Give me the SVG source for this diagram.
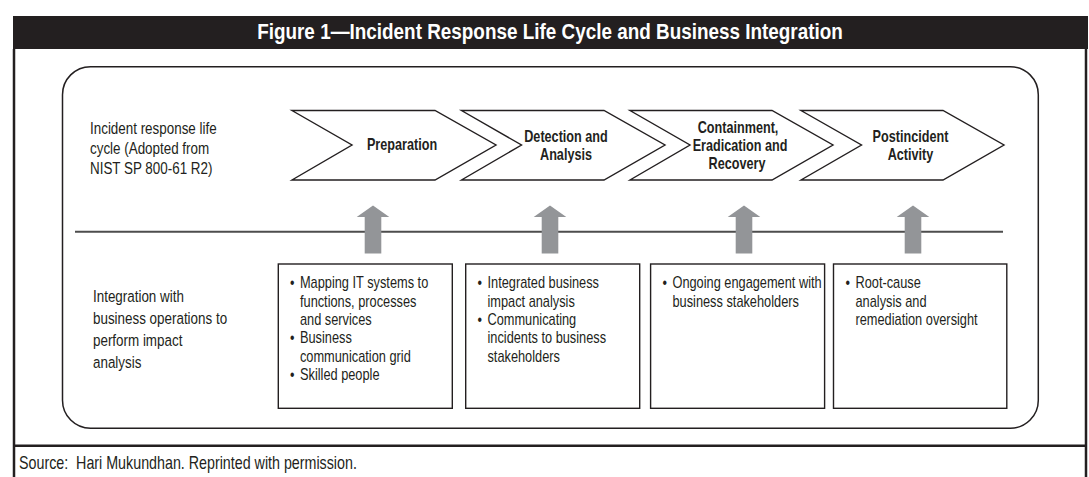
<svg xmlns="http://www.w3.org/2000/svg" width="1089" height="477" viewBox="0 0 1089 477">
  <defs>
    <style>
      .txt { font-family: "Liberation Sans", Arial, sans-serif; fill: #231f20; }
      .title { font-family: "Liberation Sans", Arial, sans-serif; font-weight: bold; font-size: 22.5px; fill: #ffffff; text-anchor: middle; }
      .label { font-size: 17.2px; }
      .item { font-size: 16.4px; }
      .step { font-size: 15.8px; font-weight: bold; text-anchor: middle; }
      .source { font-size: 18.3px; white-space: pre; }
      .frame { fill: none; stroke: #231f20; stroke-width: 2.5; }
      .panel { fill: none; stroke: #231f20; stroke-width: 1.5; }
      .chevron { fill: #ffffff; stroke: #231f20; stroke-width: 1.4; stroke-linejoin: miter; }
      .box { fill: #ffffff; stroke: #231f20; stroke-width: 1.4; }
      .divider { stroke: #4d4d4d; stroke-width: 2; }
      .up { fill: #939598; }
    </style>
    <!-- block arrow pointing up, origin at the tip -->
    <path id="uparrow" d="M0,0 L16.3,11.5 L8.3,11.5 L8.3,48 L-8.3,48 L-8.3,11.5 L-16.3,11.5 Z"/>
  </defs>

  <!-- figure frame; texts are narrowed with a horizontal scale to get a condensed face -->
  <g id="frame">
    <rect x="13" y="16" width="1075" height="33" fill="#231f20"/>
    <g transform="translate(550 0) scale(0.84 1)">
      <text class="title" x="0" y="39.5">Figure 1—Incident Response Life Cycle and Business Integration</text>
    </g>
    <line class="frame" x1="14" y1="49" x2="14" y2="477"/>
    <line class="frame" x1="1086" y1="49" x2="1086" y2="477"/>
    <line class="frame" x1="13" y1="445.7" x2="1087" y2="445.7"/>
    <g transform="translate(19 0) scale(0.78 1)">
      <text class="txt source" x="0" y="469" xml:space="preserve">Source:  Hari Mukundhan. Reprinted with permission.</text>
    </g>
  </g>

  <!-- rounded panel holding the two rows -->
  <g id="panel">
    <rect class="panel" x="62.5" y="66.7" width="975.8" height="361.5" rx="28" ry="28"/>
  </g>

  <g id="connectors">
    <line class="divider" x1="75" y1="231.7" x2="1003" y2="231.7"/>
    <use href="#uparrow" class="up" x="373" y="205.5"/>
    <use href="#uparrow" class="up" x="550" y="205.5"/>
    <use href="#uparrow" class="up" x="744" y="205.5"/>
    <use href="#uparrow" class="up" x="913" y="205.5"/>
  </g>

  <!-- row captions -->
  <g id="lifecycle-caption" transform="translate(90 0) scale(0.78 1)">
    <text class="txt label" x="0" y="134.5">Incident response life</text>
    <text class="txt label" x="0" y="154.5">cycle (Adopted from</text>
    <text class="txt label" x="0" y="174.5">NIST SP 800-61 R2)</text>
  </g>
  <g id="integration-caption" transform="translate(93 0) scale(0.78 1)">
    <text class="txt label" x="0" y="302.5">Integration with</text>
    <text class="txt label" x="0" y="324.5">business operations to</text>
    <text class="txt label" x="0" y="346.5">perform impact</text>
    <text class="txt label" x="0" y="368.5">analysis</text>
  </g>

  <!-- life cycle phases -->
  <g id="preparation">
    <polygon class="chevron" points="292,110.5 435,110.5 496,145 435,180 292,180 352,145"/>
    <g transform="translate(402 0) scale(0.8 1)">
      <text class="txt step" x="0" y="150.5">Preparation</text>
    </g>
  </g>
  <g id="detection">
    <polygon class="chevron" points="461.5,110.5 604,110.5 665,145 604,180 461.5,180 521.5,145"/>
    <g transform="translate(566 0) scale(0.8 1)">
      <text class="txt step" x="0" y="142.5">Detection and</text>
      <text class="txt step" x="0" y="160.5">Analysis</text>
    </g>
  </g>
  <g id="containment">
    <polygon class="chevron" points="630,110.5 772,110.5 833,145 772,180 630,180 690,145"/>
    <g transform="translate(738 0) scale(0.8 1)">
      <text class="txt step" x="0" y="133.5">Containment,</text>
      <text class="txt step" x="2.5" y="151.5">Eradication and</text>
      <text class="txt step" x="-1.25" y="169.5">Recovery</text>
    </g>
  </g>
  <g id="postincident">
    <polygon class="chevron" points="801,110.5 943,110.5 1004,145 943,180 801,180 861.5,145"/>
    <g transform="translate(910.5 0) scale(0.8 1)">
      <text class="txt step" x="0" y="142.5">Postincident</text>
      <text class="txt step" x="0" y="160.5">Activity</text>
    </g>
  </g>

  <!-- business integration boxes -->
  <g id="box-preparation">
    <rect class="box" x="278.3" y="264" width="174" height="144.3"/>
    <g transform="translate(290 0) scale(0.78 1)">
      <text class="txt item" x="0" y="288.5">•</text>
      <text class="txt item" x="12.8" y="288.5">Mapping IT systems to</text>
      <text class="txt item" x="12.8" y="306.8">functions, processes</text>
      <text class="txt item" x="12.8" y="325.1">and services</text>
      <text class="txt item" x="0" y="343.4">•</text>
      <text class="txt item" x="12.8" y="343.4">Business</text>
      <text class="txt item" x="12.8" y="361.7">communication grid</text>
      <text class="txt item" x="0" y="380">•</text>
      <text class="txt item" x="12.8" y="380">Skilled people</text>
    </g>
  </g>
  <g id="box-detection">
    <rect class="box" x="465.7" y="264" width="174" height="144.3"/>
    <g transform="translate(477.5 0) scale(0.78 1)">
      <text class="txt item" x="0" y="288.5">•</text>
      <text class="txt item" x="12.8" y="288.5">Integrated business</text>
      <text class="txt item" x="12.8" y="306.8">impact analysis</text>
      <text class="txt item" x="0" y="325.1">•</text>
      <text class="txt item" x="12.8" y="325.1">Communicating</text>
      <text class="txt item" x="12.8" y="343.4">incidents to business</text>
      <text class="txt item" x="12.8" y="361.7">stakeholders</text>
    </g>
  </g>
  <g id="box-containment">
    <rect class="box" x="650.6" y="264" width="174" height="144.3"/>
    <g transform="translate(662.5 0) scale(0.78 1)">
      <text class="txt item" x="0" y="288.5">•</text>
      <text class="txt item" x="12.8" y="288.5">Ongoing engagement with</text>
      <text class="txt item" x="12.8" y="306.8">business stakeholders</text>
    </g>
  </g>
  <g id="box-postincident">
    <rect class="box" x="833.5" y="264" width="173.3" height="144.3"/>
    <g transform="translate(845.5 0) scale(0.78 1)">
      <text class="txt item" x="0" y="288.5">•</text>
      <text class="txt item" x="12.8" y="288.5">Root-cause</text>
      <text class="txt item" x="12.8" y="306.8">analysis and</text>
      <text class="txt item" x="12.8" y="325.1">remediation oversight</text>
    </g>
  </g>
</svg>
